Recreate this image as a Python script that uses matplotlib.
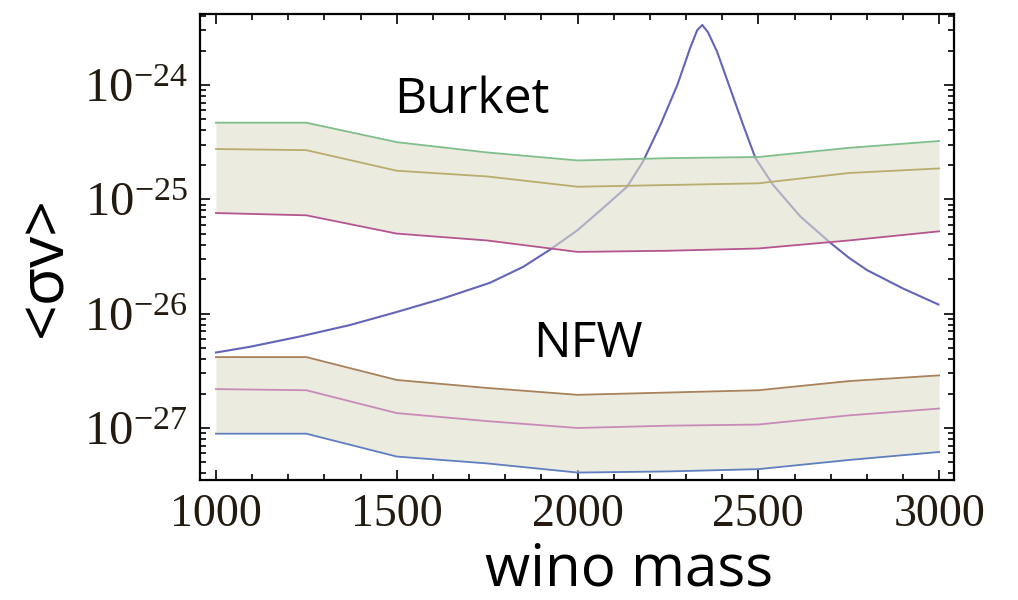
import numpy as np
import matplotlib
matplotlib.use('Agg')
import matplotlib.pyplot as plt
from matplotlib.ticker import LogLocator, MultipleLocator, NullFormatter

plt.rcParams['mathtext.fontset'] = 'custom'
plt.rcParams['mathtext.rm'] = 'Liberation Serif'
plt.rcParams['mathtext.it'] = 'Liberation Serif:italic'
plt.rcParams['mathtext.default'] = 'rm'

# band curves, log10(<sigma v>)
mass = [1000, 1250, 1500, 1750, 2000, 2250, 2500, 2750, 3000]
burk_hi = [-24.33, -24.33, -24.50, -24.59, -24.66, -24.64, -24.63, -24.55, -24.49]
burk_mid = [-24.56, -24.57, -24.75, -24.80, -24.89, -24.875, -24.86, -24.77, -24.73]
burk_lo = [-25.12, -25.14, -25.30, -25.36, -25.46, -25.45, -25.43, -25.36, -25.28]
nfw_hi = [-26.38, -26.38, -26.58, -26.65, -26.71, -26.69, -26.67, -26.59, -26.54]
nfw_mid = [-26.66, -26.67, -26.87, -26.94, -27.00, -26.98, -26.97, -26.89, -26.83]
nfw_lo = [-27.05, -27.05, -27.25, -27.31, -27.39, -27.38, -27.36, -27.28, -27.21]

# wino cross section (resonance)
wino_m = [1000, 1094, 1232, 1370, 1495, 1625, 1758, 1850, 1924, 2000, 2062, 2137,
          2181, 2229, 2276, 2311, 2331, 2345, 2361, 2386, 2422, 2458, 2492, 2541,
          2616, 2699, 2750, 2801, 2900, 2998]
wino_sv = [-26.34, -26.29, -26.20, -26.10, -25.99, -25.87, -25.73, -25.59, -25.44,
           -25.27, -25.10, -24.89, -24.67, -24.35, -24.00, -23.68, -23.52, -23.475,
           -23.54, -23.71, -24.03, -24.35, -24.64, -24.875, -25.15, -25.38, -25.51,
           -25.62, -25.78, -25.92]

p = lambda a: 10.0**np.array(a)

fig = plt.figure(figsize=(10.18, 6.0), dpi=100)
ax = fig.add_axes([0.1965, 0.2, 0.7406, 0.7767])

ax.plot(wino_m, p(wino_sv), color='#6464b8', lw=1.5, zorder=1)

fillc = '#DFDECB'
ax.fill_between(mass, p(burk_lo), p(burk_hi), color=fillc, alpha=0.6, lw=0, zorder=2)
ax.fill_between(mass, p(nfw_lo), p(nfw_hi), color=fillc, alpha=0.6, lw=0, zorder=2)

ax.plot(mass, p(burk_hi), color='#7fbf8c', lw=1.3, zorder=3)
ax.plot(mass, p(burk_mid), color='#b8ac6e', lw=1.3, zorder=3)
ax.plot(mass, p(burk_lo), color='#b5558f', lw=1.3, zorder=3)
ax.plot(mass, p(nfw_hi), color='#a8825a', lw=1.3, zorder=3)
ax.plot(mass, p(nfw_mid), color='#c88ab8', lw=1.3, zorder=3)
ax.plot(mass, p(nfw_lo), color='#5f7fbf', lw=1.3, zorder=3)

ax.set_yscale('log')
ax.set_xlim(956, 3041)
ax.set_ylim(10**-27.455, 10**-23.379)

ax.xaxis.set_major_locator(MultipleLocator(500))
ax.xaxis.set_minor_locator(MultipleLocator(100))
ax.yaxis.set_major_locator(LogLocator(base=10, numticks=10))
ax.yaxis.set_minor_locator(LogLocator(base=10, subs=np.arange(2, 10), numticks=10))
ax.yaxis.set_minor_formatter(NullFormatter())
ax.tick_params(which='both', direction='in', top=True, right=True, width=1.2)
ax.tick_params(which='major', length=7)
ax.tick_params(which='minor', length=4)
for sp in ax.spines.values():
    sp.set_linewidth(1.6)

tickfont = dict(family='Liberation Serif', size=33, color='#231a10')
ax.set_xticks([1000, 1500, 2000, 2500, 3000])
ax.set_xticklabels(['1000', '1500', '2000', '2500', '3000'], fontdict=tickfont)
ax.set_yticks([1e-27, 1e-26, 1e-25, 1e-24])
ax.set_yticklabels([r'$10^{-27}$', r'$10^{-26}$', r'$10^{-25}$', r'$10^{-24}$'],
                   fontdict=dict(tickfont, size=35))
ax.tick_params(axis='x', pad=10)
ax.tick_params(axis='y', pad=9)

ax.text(1708, 10**-24.13, 'Burket', fontsize=36, family='Open Sans', ha='center', va='center')
ax.text(2029, 10**-26.27, 'NFW', fontsize=36, family='Open Sans', ha='center', va='center')

fig.text(0.618, 0.024, 'wino mass', fontsize=42, family='Open Sans', ha='center', va='baseline')
fig.text(0.044, 0.555, '<σv>', fontsize=45, family='Open Sans', ha='center', va='center', rotation=90)

fig.savefig('out.png', dpi=100)
